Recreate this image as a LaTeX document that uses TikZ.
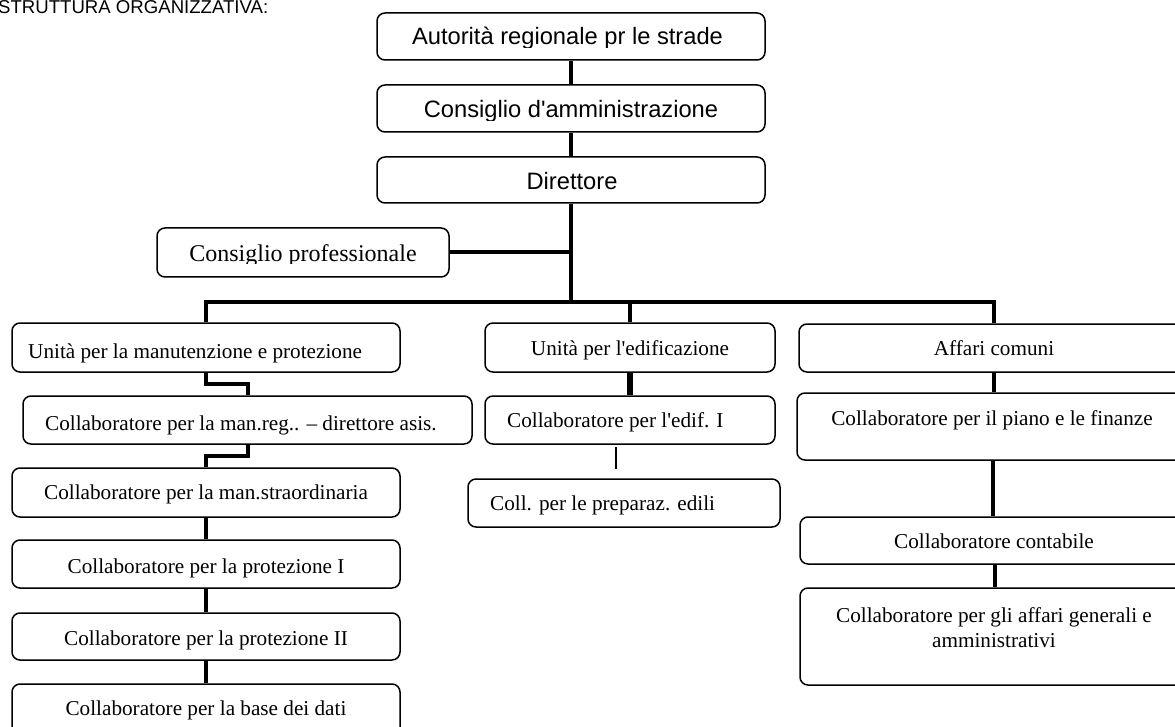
\documentclass[tikz,border=0pt]{standalone}
\usepackage{fontspec}
\setmainfont{Liberation Serif}[Ligatures=TeXOff]
\newfontfamily\arialf{Liberation Sans}[Ligatures=TeXOff]
\usetikzlibrary{calc,fit}
\begin{document}
\begin{tikzpicture}[x=1pt,y=-1pt,
  box/.style={draw, rounded corners=8pt, line width=1.5pt, inner sep=0pt},
  conn/.style={line width=4pt},
  txt/.style={inner sep=0pt, font=\fontsize{21.2}{25}\selectfont},
  stxt/.style={inner sep=0pt, font=\arialf\fontsize{23.7}{28}\selectfont}]
\useasboundingbox (0,0) rectangle (1175,727);
\clip (0,0) rectangle (1175,727);

% title
\node[inner sep=0pt, font=\arialf\fontsize{18.6}{22}\selectfont, anchor=base west] (title) at (-2,13.8) {STRUTTURA ORGANIZZATIVA:};

% top boxes
\node[box, fit={(377,13) (765,60)}] (T1) {};
\node[box, fit={(377,85) (765,132)}] (T2) {};
\node[box, fit={(377,157) (765,203)}] (T3) {};
\node[box, fit={(157,228) (449,277)}] (CP) {};
\begin{scope}
\clip (377,13) rectangle (765,47.5);
\node[stxt, anchor=base] (tT1) at (567.5,45) {Autorità regionale pr le strade};
\end{scope}
\begin{scope}
\clip (377,85) rectangle (765,120.5);
\node[stxt, anchor=base] (tT2) at (571,118) {Consiglio d'amministrazione};
\end{scope}
\node[stxt, anchor=base] (tT3) at (572,190) {Direttore};
\begin{scope}
\clip (157,228) rectangle (449,263.5);
\node[inner sep=0pt, font=\fontsize{24}{28}\selectfont, anchor=base] (tCP) at (303,262) {Consiglio professionale};
\end{scope}

% left column
\node[box, fit={(12,323) (400,372)}] (L1) {};
\node[box, fit={(23,396) (472,444)}] (L2) {};
\node[box, fit={(12,468) (400,517)}] (L3) {};
\node[box, fit={(12,540) (400,588)}] (L4) {};
\node[box, fit={(12,613) (400,660)}] (L5) {};
\node[box, fit={(12,684) (400,740)}] (L6) {};
\node[txt, anchor=base west] (tL1) at (28,358) {Unità per la manutenzione e protezione};
\node[txt, anchor=base west] (tL2) at (45,430) {Collaboratore per la man.reg.. – direttore asis.};
\node[txt, anchor=base] (tL3) at (206,499) {Collaboratore per la man.straordinaria};
\node[txt, anchor=base] (tL4) at (206,573) {Collaboratore per la protezione I};
\node[txt, anchor=base] (tL5) at (206,645) {Collaboratore per la protezione II};
\node[txt, anchor=base] (tL6) at (206,715) {Collaboratore per la base dei dati};

% middle column
\node[box, fit={(485,323) (775,372)}] (M1) {};
\node[box, fit={(485,396) (775,444)}] (M2) {};
\node[box, fit={(468,479) (780,527)}] (M3) {};
\node[txt, anchor=base] (tM1) at (630,355) {Unità per l'edificazione};
\node[txt, anchor=base west] (tM2) at (507,427) {Collaboratore per l'edif. I};
\node[txt, anchor=base west] (tM3) at (490,510) {Coll. per le preparaz. edili};

% right column
\node[box, fit={(799,324) (1189,372)}] (R1) {};
\node[box, fit={(797,393) (1189,460)}] (R2) {};
\node[box, fit={(800,517) (1189,564)}] (R3) {};
\node[box, fit={(800,588) (1189,685)}] (R4) {};
\node[txt, anchor=base] (tR1) at (994,355) {Affari comuni};
\node[txt, anchor=base] (tR2) at (992,425) {Collaboratore per il piano e le finanze};
\node[txt, anchor=base] (tR3) at (994,548) {Collaboratore contabile};
\node[txt, anchor=base] (tR4a) at (994,622) {Collaboratore per gli affari generali e};
\node[txt, anchor=base] (tR4b) at (994,647) {amministrativi};

% connectors
\coordinate (bar) at (571,302);
\draw[conn] (T1.south) -- (T2.north);
\draw[conn] (T2.south) -- (T3.north);
\draw[conn] (T3.south) -- (bar);
\draw[conn] (CP.east) -- (CP.east -| bar);
\draw[conn] (L1.north) |- (bar) -| (R1.north);
\draw[conn] (M1.north) -- (M1.north |- bar);
\draw[conn] (L1.south) |- ($(L1.south)!.5!(L2.north)$) -| (L2.north);
\draw[conn] (L2.south) |- ($(L2.south)!.5!(L3.north)$) -| (L3.north);
\draw[conn] (L3.south) -- (L4.north);
\draw[conn] (L4.south) -- (L5.north);
\draw[conn] (L5.south) -- (L6.north);
\draw[line width=6pt] (M1.south) -- (M2.north);
\coordinate (m2a) at (616,447);
\coordinate (m2b) at (616,469);
\draw[line width=2pt] (m2a) -- (m2b);
\draw[conn] (R1.south) -- (R1.south |- R2.north);
\draw[conn] (R2.south) -- (R2.south |- R3.north);
\draw[conn] (R3.south) -- (R3.south |- R4.north);
\end{tikzpicture}
\end{document}
